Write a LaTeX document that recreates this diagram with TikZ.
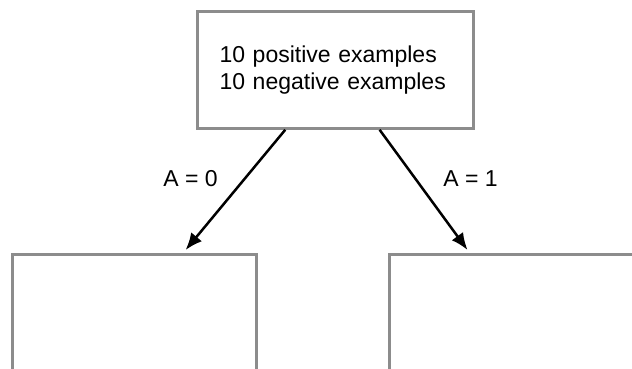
\documentclass[tikz,border=0pt]{standalone}
\usepackage{fontspec}
\setmainfont{Liberation Sans}
\usetikzlibrary{calc,arrows.meta}

\definecolor{boxgray}{HTML}{8C8C8C}

\tikzset{
  box/.style={draw=boxgray, line width=3pt, minimum width=244pt, minimum height=116pt},
  arr/.style={-{Latex[length=17pt,width=14pt]}, line width=2.5pt, black},
  edgelabel/.style={font=\fontsize{23}{27}\selectfont, inner sep=0pt}
}

\begin{document}
\begin{tikzpicture}[x=1pt, y=-1pt]

  % Canvas
  \useasboundingbox (0,0) rectangle (632,369);

  % Root node with the counts
  \node[box, text width=232pt, inner xsep=22pt, minimum height=116.5pt, align=left,
        font=\fontsize{23}{27.5}\selectfont] (root) at (335.5,70)
      {10 positive examples\\10 negative examples};

  % Children (cut off at the bottom)
  \node[box, anchor=north] (left)  at (134,253) {};
  \node[box, anchor=north] (right) at (511,253) {};

  % Branches
  \coordinate (lefttip)  at ($(left.north west)!0.709!(left.north east) + (0,-3)$);
  \coordinate (righttip) at ($(right.north west)!0.324!(right.north east) + (0,-3)$);
  \draw[arr] ($(root.south west)!0.32!(root.south east)$) -- (lefttip);
  \draw[arr] ($(root.south west)!0.658!(root.south east)$) -- (righttip);

  % Branch labels
  \node[edgelabel] (labelzero) at (190.5,179) {A = 0};
  \node[edgelabel] (labelone)  at (470.5,179) {A = 1};

\end{tikzpicture}
\end{document}
